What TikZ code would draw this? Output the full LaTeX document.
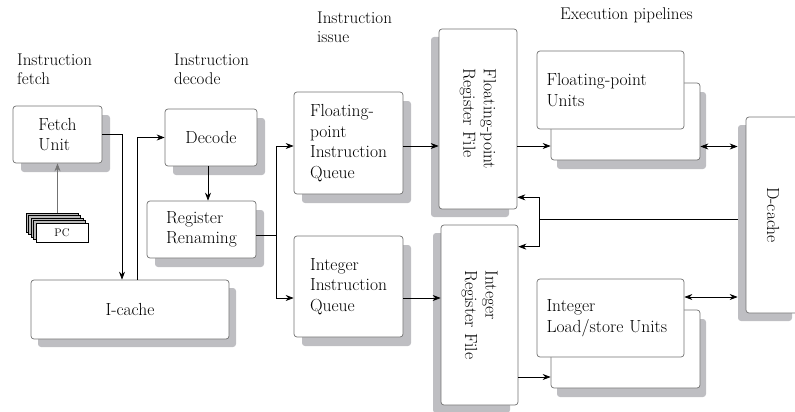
\documentclass[tikz,border=0pt]{standalone}
\usetikzlibrary{shadows,arrows.meta}
\definecolor{edgegray}{RGB}{115,115,115}
\definecolor{shadegray}{RGB}{190,190,194}
\newcommand{\boxfont}{\fontsize{17.5}{20.5}\selectfont}
\newcommand{\headfont}{\fontsize{17}{19}\selectfont}
\tikzset{
unit/.style={
	draw=edgegray, fill=white, rounded corners=3pt, line width=0.7pt,
	align=left, font=\boxfont},
shadeR/.style={drop shadow={shadow xshift=8pt, shadow yshift=-9pt,
	fill=shadegray, opacity=1}},
shadeL/.style={drop shadow={shadow xshift=-8pt, shadow yshift=-8pt,
	fill=shadegray, opacity=1}},
flow/.style={-{Stealth[length=8pt,width=6pt]}, line width=0.7pt},
twoway/.style={{Stealth[length=8pt,width=6pt]}-{Stealth[length=8pt,width=6pt]},
	line width=0.7pt},
stage/.style={anchor=north west, inner sep=0pt, align=left, font=\headfont},
card/.style={draw=black, fill=gray!55, line width=0.5pt,
	minimum width=52pt, minimum height=19pt, inner sep=0pt,
	font=\fontsize{11}{11}\selectfont}
}

\begin{document}
\begin{tikzpicture}[x=1pt, y=-1pt]
	\useasboundingbox (0,0) rectangle (795,412);
	% stage headings
	\node[stage] (hfetch) at (17,54) {Instruction\\fetch};
	\node[stage] (hdecode) at (174,54) {Instruction\\decode};
	\node[stage] (hissue) at (317,12) {Instruction\\issue};
	\node[stage] (hexec) at (560,8) {Execution pipelines};

	% front end
	\node[unit, shadeR, minimum width=89pt, minimum height=57pt] (fetch) at (57.5,134.5) {Fetch\\Unit};
	\node[unit, shadeR, minimum width=92pt, minimum height=57pt] (decode) at (211,137.5) {Decode};
	\node[unit, shadeR, minimum width=109pt, minimum height=57pt] (rename) at (201.5,229.5) {Register\\Renaming};
	\node[unit, drop shadow={shadow xshift=7pt, shadow yshift=-8pt, fill=shadegray, opacity=1},
		minimum width=198pt, minimum height=59pt] (icache) at (130,309.5) {I-cache};

	% stack of program counters
	\foreach \i in {4,3,2,1}
		\node[card] (pc\i) at ({62-2.5*\i},{232.5-2.5*\i}) {};
	\node[card, fill=white] (pc0) at (62,232.5) {PC};

	% issue queues
	\node[unit, shadeR, minimum width=109pt, minimum height=102pt] (fpq) at (348.5,143) {Floating-\\point\\Instruction\\Queue};
	\node[unit, shadeR, minimum width=109pt, minimum height=101pt] (intq) at (348.5,286.5) {Integer\\Instruction\\Queue};

	% register files
	\node[unit, shadeL, minimum width=78pt, minimum height=180pt] (fprf) at (478,119) {};
	\node[rotate=-90, align=left, font=\boxfont] (fprftxt) at (fprf) {Floating-point\\Register File};
	\node[unit, shadeL, minimum width=77pt, minimum height=180pt] (intrf) at (479.5,315) {};
	\node[rotate=-90, align=left, font=\boxfont] (intrftxt) at (intrf) {Integer\\Register File};

	% execution units (two of each)
	\node[unit, drop shadow={shadow xshift=6pt, shadow yshift=-9pt, fill=shadegray, opacity=1},
		minimum width=149pt, minimum height=77pt] (fpu2) at (625.5,121.5) {};
	\node[unit, minimum width=147pt, minimum height=78pt, text width=128pt, inner xsep=0pt] (fpu1) at (610.5,90) {Floating-point\\Units};
	\node[unit, drop shadow={shadow xshift=6pt, shadow yshift=-9pt, fill=shadegray, opacity=1},
		minimum width=149pt, minimum height=78pt] (lsu2) at (625.5,349) {};
	\node[unit, minimum width=147pt, minimum height=78pt, text width=128pt, inner xsep=0pt] (lsu1) at (610.5,318) {Integer\\Load/store Units};

	\node[unit, shadeL, minimum width=54pt, minimum height=196pt] (dcache) at (773,215) {};
	\node[rotate=-90, font=\boxfont] (dcachetxt) at (dcache) {D-cache};

	% bus columns
	\coordinate (fbus) at (122,0);
	\coordinate (dbus) at (137,0);
	\coordinate (qbus) at (276,0);
	\coordinate (rbus) at (539,0);

	% fetch and decode
	\draw[flow, draw=edgegray] (pc4.north -| fetch.south) -- (fetch.south);
	\draw[flow] (fetch.east) -| (icache.north -| fbus);
	\draw[flow] (icache.north -| dbus) |- (decode.west);
	\draw[flow] (decode.south -| 208,0) -- (rename.north -| 208,0);
	\draw ([yshift=-6pt]rename.east) -- ([yshift=-6pt]rename.east -| qbus);
	\draw[flow] ([yshift=-6pt]rename.east -| qbus) |- ([yshift=-3pt]fpq.west);
	\draw[flow] ([yshift=-6pt]rename.east -| qbus) |- ([yshift=-11.5pt]intq.west);

	% issue
	\draw[flow] ([yshift=-3pt]fpq.east) -- ([yshift=-3pt]fpq.east -| fprf.west);
	\draw[flow] ([yshift=-11.5pt]intq.east) -- ([yshift=-11.5pt]intq.east -| intrf.west);
	\draw[flow] ([yshift=-3pt]fpq.east -| fprf.east) -- ([yshift=-3pt]fpq.east -| fpu2.west);
	\draw[flow] ([yshift=-28pt]lsu2.west -| intrf.east) -- ([yshift=-28pt]lsu2.west);

	% memory traffic
	\draw[twoway] ([yshift=-25pt]fpu2.east) -- ([yshift=-25pt,xshift=-8pt]fpu2.east -| dcache.west);
	\draw[twoway] ([yshift=21pt]lsu1.east) -- ([yshift=21pt,xshift=-8pt]lsu1.east -| dcache.west);
	\draw ([xshift=-8pt,yshift=-4pt]dcache.west) -- ([yshift=-4pt]dcache.west -| rbus);
	\draw[flow] ([yshift=-4pt]dcache.west -| rbus) |- ([yshift=12pt]fprf.south east);
	\draw[flow] ([yshift=-4pt]dcache.west -| rbus) |- ([yshift=-22pt]intrf.north east);
\end{tikzpicture}
\end{document}
